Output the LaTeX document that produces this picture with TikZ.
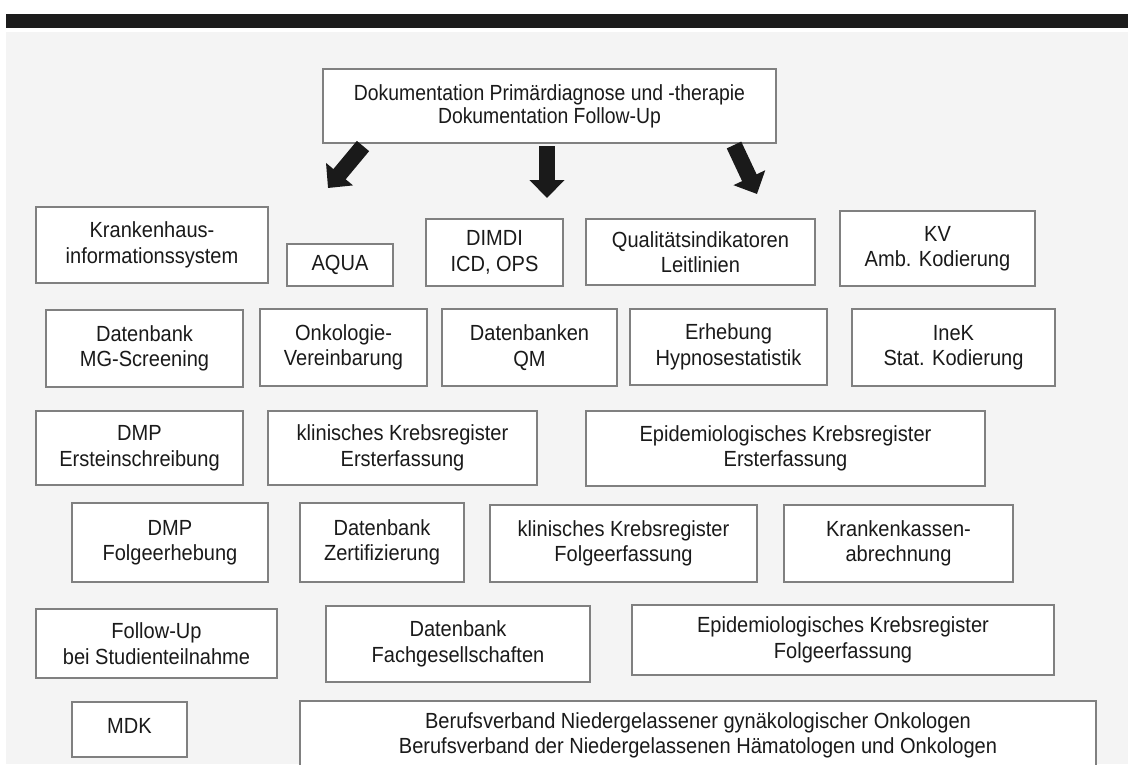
\documentclass[tikz,border=0pt]{standalone}
\usepackage{fontspec}
\setmainfont{Liberation Sans}
\newfontfamily\boxfont[FakeStretch=0.915]{Liberation Sans}
\newfontfamily\topfont[FakeStretch=0.885]{Liberation Sans}
\usetikzlibrary{arrows.meta}
\definecolor{bgc}{HTML}{F4F4F4}
\definecolor{barc}{HTML}{1C1C1C}
\definecolor{framec}{HTML}{808080}
\definecolor{arrc}{HTML}{1A1A1A}
\definecolor{txtc}{HTML}{1A1A1A}
\begin{document}
\begin{tikzpicture}[x=1pt,y=-1pt,
  box/.style={draw=framec, fill=white, line width=1.2pt, inner sep=0pt,
    align=center, text=txtc, font=\boxfont\fontsize{21.9}{25.5}\selectfont},
  topbox/.style={box, font=\topfont\fontsize{21.9}{23}\selectfont},
  bigarrow/.style={draw=arrc, line width=16pt,
    -{Triangle[width=34pt,length=18pt]}}]
\useasboundingbox (0,0) rectangle (1128,764);
\fill[white] (0,0) rectangle (1128,764);
\fill[barc] (6,14) rectangle (1128,28);
\fill[bgc] (6,32) rectangle (1128,764);

\node[topbox, minimum width=453pt, minimum height=74pt] (top) at (549.5,106)
  {Dokumentation Primärdiagnose und -therapie\\Dokumentation Follow-Up};

% row 1
\node[box, minimum width=232pt, minimum height=76pt] (kis) at (152,245) {Krankenhaus-\\informationssystem};
\node[box, minimum width=106pt, minimum height=42pt] (aqua) at (340,265) {AQUA};
\node[box, minimum width=137pt, minimum height=67pt] (dimdi) at (494.5,252.5) {DIMDI\\ICD, OPS};
\node[box, minimum width=229pt, minimum height=66pt] (qual) at (700.5,252) {Qualitätsindikatoren\\Leitlinien};
\node[box, minimum width=195pt, minimum height=75pt] (kv) at (937.5,248.5) {KV\\Amb. Kodierung};
% row 2
\node[box, minimum width=197pt, minimum height=77pt] (mg) at (144.5,348.5) {Datenbank\\MG-Screening};
\node[box, minimum width=167pt, minimum height=77pt] (onko) at (343.5,347.5) {Onkologie-\\Vereinbarung};
\node[box, minimum width=175pt, minimum height=77pt] (qm) at (529.5,347.5) {Datenbanken\\QM};
\node[box, minimum width=197pt, minimum height=76pt] (erh) at (728.5,347) {Erhebung\\Hypnosestatistik};
\node[box, minimum width=203pt, minimum height=77pt] (inek) at (953.5,347.5) {IneK\\Stat. Kodierung};
% row 3
\node[box, minimum width=207pt, minimum height=74pt] (dmp1) at (139.5,448) {DMP\\Ersteinschreibung};
\node[box, minimum width=269pt, minimum height=74pt] (kkr1) at (402.5,448) {klinisches Krebsregister\\Ersterfassung};
\node[box, minimum width=399pt, minimum height=75pt] (ekr1) at (785.5,448.5) {Epidemiologisches Krebsregister\\Ersterfassung};
% row 4
\node[box, minimum width=196pt, minimum height=79pt] (dmp2) at (170,542.5) {DMP\\Folgeerhebung};
\node[box, minimum width=164pt, minimum height=79pt] (zert) at (382,542.5) {Datenbank\\Zertifizierung};
\node[box, minimum width=267pt, minimum height=77pt] (kkr2) at (623.5,543.5) {klinisches Krebsregister\\Folgeerfassung};
\node[box, minimum width=229pt, minimum height=77pt] (kka) at (898.5,543.5) {Krankenkassen-\\abrechnung};
% row 5
\node[box, minimum width=241pt, minimum height=69pt] (fu) at (156.5,643.5) {Follow-Up\\bei Studienteilnahme};
\node[box, minimum width=264pt, minimum height=76pt] (fach) at (458,644) {Datenbank\\Fachgesellschaften};
\node[box, minimum width=422pt, minimum height=70pt] (ekr2) at (843,640) {Epidemiologisches Krebsregister\\Folgeerfassung};
% row 6
\node[box, minimum width=115pt, minimum height=55pt, text depth=8pt] (mdk) at (129.5,729.5) {MDK};
\node[box, minimum width=796pt, minimum height=69pt] (beruf) at (698,735.5)
  {Berufsverband Niedergelassener gynäkologischer Onkologen\\Berufsverband der Niedergelassenen Hämatologen und Onkologen};

% arrows
\coordinate (la) at (363,146);
\coordinate (lb) at (328,188);
\coordinate (ma) at (547,146);
\coordinate (mb) at (547,198);
\coordinate (ra) at (734,145);
\coordinate (rb) at (757,194);
\draw[bigarrow] (la) -- (lb);
\draw[bigarrow] (ma) -- (mb);
\draw[bigarrow] (ra) -- (rb);
\end{tikzpicture}
\end{document}
